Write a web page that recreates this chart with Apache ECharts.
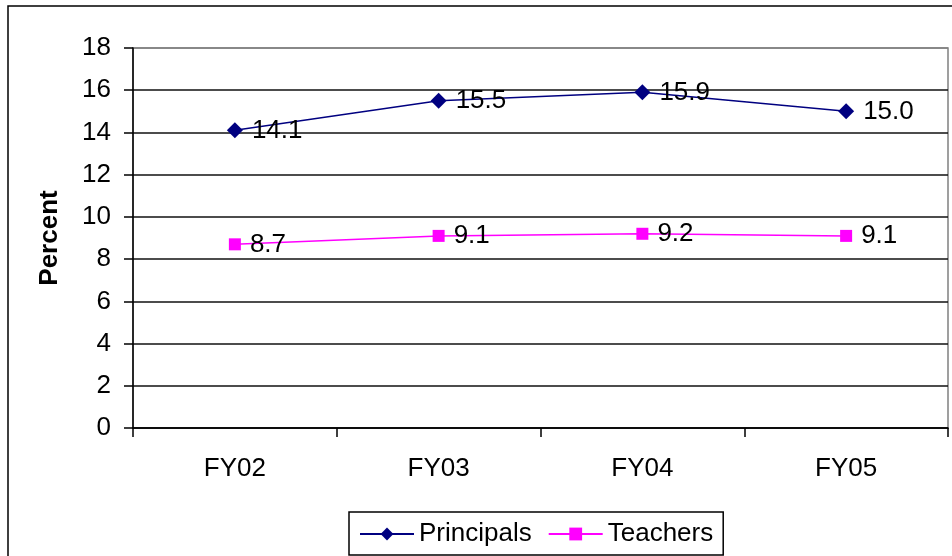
<!DOCTYPE html>
<html lang="en">
  <head>
    <meta charset="utf-8" />
    <title>Principals and Teachers</title>
    <script src="https://cdn.jsdelivr.net/npm/echarts@6/dist/echarts.min.js"></script>
    <style>
      html, body { margin: 0; padding: 0; background: #fff; }
      #main { width: 952px; height: 556px; }
    </style>
  </head>
  <body>
    <div id="main"></div>
    <script>
      var years = ["FY02", "FY03", "FY04", "FY05"];
      var principals = [14.1, 15.5, 15.9, 15.0];
      var teachers = [8.7, 9.1, 9.2, 9.1];
      var yTicks = [0, 2, 4, 6, 8, 10, 12, 14, 16, 18];

      var font = "Liberation Sans, Arial, sans-serif";
      var chart = echarts.init(document.getElementById("main"));

      // split lines are black except the top one (plot border is grey)
      var splitColors = yTicks.map(function (t, i) {
        return i === yTicks.length - 1 ? "#808080" : "#111";
      });

      var labelStyle = {
        show: true,
        position: "right",
        distance: 9,
        color: "#000",
        fontFamily: font,
        fontSize: 26,
        formatter: function (p) { return p.value.toFixed(1); }
      };

      chart.setOption({
        animation: false,
        graphic: [{
          type: "rect",
          shape: { x: 8, y: 6, width: 1000, height: 700 },
          style: { fill: null, stroke: "#000", lineWidth: 1.5 },
          silent: true
        }],
        grid: {
          left: 133, right: 4, top: 48, bottom: 128,
          show: true, borderColor: "#808080", borderWidth: 1.5
        },
        legend: {
          left: 349, top: 512,
          padding: [9, 10, 8, 10],
          borderColor: "#000", borderWidth: 1.5,
          itemWidth: 54, itemHeight: 16, itemGap: 16,
          textStyle: { fontFamily: font, fontSize: 26, color: "#000" },
          data: ["Principals", "Teachers"]
        },
        xAxis: {
          type: "category",
          data: years,
          boundaryGap: true,
          axisLine: { lineStyle: { color: "#000", width: 1.5 } },
          axisTick: { show: true, length: 9, lineStyle: { color: "#000", width: 1.5 } },
          axisLabel: { margin: 28, color: "#000", fontFamily: font, fontSize: 26 }
        },
        yAxis: {
          type: "value",
          min: 0, max: 18, interval: 2,
          name: "Percent",
          nameLocation: "middle",
          nameGap: 70,
          nameTextStyle: { fontFamily: font, fontSize: 26, fontWeight: "bold", color: "#000" },
          axisLine: { show: true, lineStyle: { color: "#000", width: 1.5 } },
          axisTick: { show: true, length: 9, lineStyle: { color: "#000", width: 1.5 } },
          axisLabel: { margin: 22, color: "#000", fontFamily: font, fontSize: 26 },
          splitLine: { lineStyle: { color: splitColors, width: 1.5 } }
        },
        series: [
          {
            name: "Principals",
            type: "line",
            data: principals,
            symbol: "diamond",
            symbolSize: 16,
            itemStyle: { color: "#000080" },
            lineStyle: { color: "#000080", width: 1.5 },
            label: labelStyle
          },
          {
            name: "Teachers",
            type: "line",
            data: teachers,
            symbol: "rect",
            symbolSize: 12,
            itemStyle: { color: "#ff00ff" },
            lineStyle: { color: "#ff00ff", width: 1.5 },
            label: labelStyle
          }
        ]
      });
    </script>
  </body>
</html>
